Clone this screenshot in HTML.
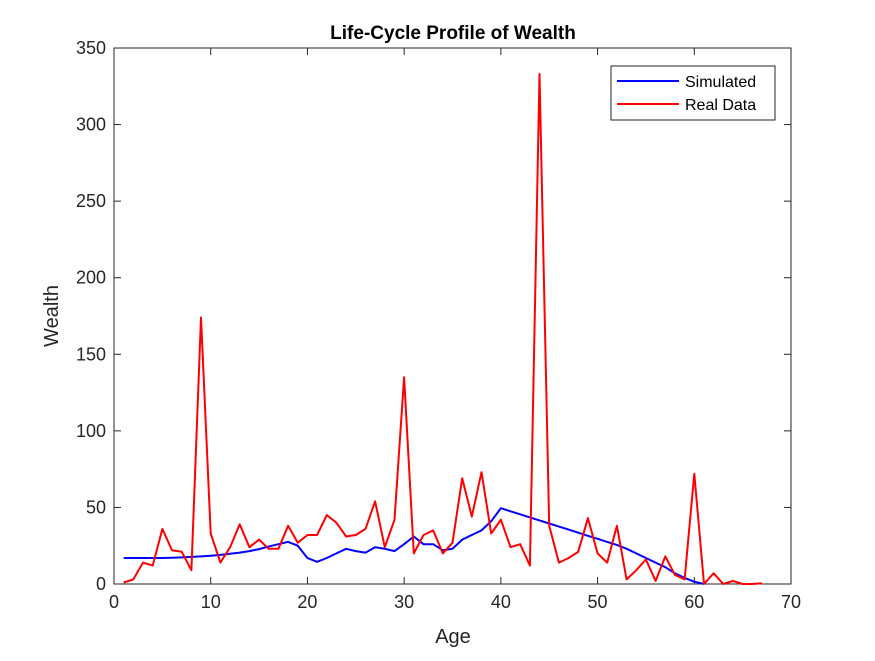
<!DOCTYPE html>
<html><head><meta charset="utf-8"><style>
html,body{margin:0;padding:0;background:#fff;}
svg text{font-family:"Liberation Sans",Arial,sans-serif;}
</style></head><body>
<svg id="chart" width="875" height="656" xmlns="http://www.w3.org/2000/svg">
<rect width="875" height="656" fill="#fff"/>
<g id="axes"></g>
<g id="series"></g>
<text x="453" y="39" text-anchor="middle" font-size="19" font-weight="bold" fill="#000">Life-Cycle Profile of Wealth</text>
<text x="453" y="643" text-anchor="middle" font-size="20" fill="#262626">Age</text>
<text transform="translate(58,316) rotate(-90)" text-anchor="middle" font-size="20" fill="#262626">Wealth</text>
<g>
<rect x="611" y="66" width="164" height="54" fill="#fff" stroke="#262626" stroke-width="1"/>
<line x1="617" y1="81" x2="679" y2="81" stroke="#0000ff" stroke-width="2"/>
<text x="685" y="87" font-size="16" fill="#000">Simulated</text>
<line x1="617" y1="104" x2="679" y2="104" stroke="#ff0000" stroke-width="2"/>
<text x="685" y="110" font-size="16" fill="#000">Real Data</text>
</g>
</svg>
<script>
const xTicks = [0,10,20,30,40,50,60,70];
const yTicks = [0,50,100,150,200,250,300,350];
const realData = [1,3,14,12,36,22,21,9,174,33,14,24,39,24,29,23,23,38,27,32,32,45,40,31,32,36,54,24,42,135,20,32,35,20,27,69,44,73,33,42,24,26,12,333,38,14,17,21,43,20,14,38,3,9,16,2,18,6,3,72,0,7,0,2,0,0,0.5];
const simulated = [17,17,17,17,17,17.2,17.4,17.7,18,18.5,19,19.7,20.5,21.5,22.8,24.5,26,27.5,25,17,14.5,17,20,23,21.5,20.5,24,23,21.5,26,31,26,26,22,23,29,32,35,41,49.5,47.5,45.5,43.5,41.5,39.5,37.5,35.5,33.5,31.5,29.5,27.5,25.5,23,20,17,14,11,7,4,1.5,0];
const X0=114,X1=791,Y0=584,Y1=48;
function sx(v){return X0+(v-0)/(70-0)*(X1-X0);}
function sy(v){return Y0-(v-0)/(350-0)*(Y0-Y1);}
const NS="http://www.w3.org/2000/svg";
const axes=document.getElementById('axes');
function mk(tag,attrs,parent){const e=document.createElementNS(NS,tag);for(const k in attrs)e.setAttribute(k,attrs[k]);parent.appendChild(e);return e;}
const box=mk('rect',{x:X0,y:Y1,width:X1-X0,height:Y0-Y1,fill:'#fff',stroke:'#262626','stroke-width':1},axes);


xTicks.forEach(t=>{
  const x=sx(t);
  const l1=mk('line',{x1:x,y1:Y0,x2:x,y2:Y0-7,stroke:'#262626'},axes);
  
  
  mk('line',{x1:x,y1:Y1,x2:x,y2:Y1+7,stroke:'#262626'},axes);
  const tx=mk('text',{x:x,y:Y0+24,'text-anchor':'middle','font-size':18,fill:'#262626'},axes);
  tx.textContent=t;
  
  
});
yTicks.forEach(t=>{
  const y=sy(t);
  const l1=mk('line',{x1:X0,y1:y,x2:X0+7,y2:y,stroke:'#262626'},axes);
  
  
  mk('line',{x1:X1,y1:y,x2:X1-7,y2:y,stroke:'#262626'},axes);
  const tx=mk('text',{x:X0-8,y:y+6,'text-anchor':'end','font-size':18,fill:'#262626'},axes);
  tx.textContent=t;
  
  
});
const series=document.getElementById('series');
function line(arr,color,name){
  const pts=arr.map((v,i)=>sx(i+1).toFixed(1)+','+sy(v).toFixed(1)).join(' ');
  const p=mk('polyline',{points:pts,fill:'none',stroke:color,'stroke-width':2,'stroke-linejoin':'round'},series);
  
  
}
line(simulated,'#0000ff','simulated-line');
line(realData,'#ff0000','real-data-line');
</script>
</body></html>
